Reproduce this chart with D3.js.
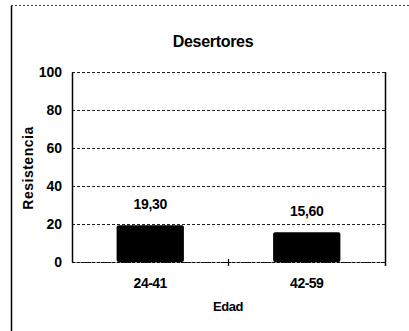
<!DOCTYPE html>
<html lang="en">
<head>
<meta charset="UTF-8">
<title>Desertores</title>
<script src="https://d3js.org/d3.v7.min.js"></script>
<style>
  body { margin: 0; background: #fff; }
  text { font-family: "Liberation Sans", Arial, sans-serif; font-weight: bold; fill: #000; }
</style>
</head>
<body>
<svg width="409" height="331"></svg>
<script>
// data
const categories = ["24-41", "42-59"];
const values = [19.30, 15.60];
const valueLabels = ["19,30", "15,60"];
const yTicks = [0, 20, 40, 60, 80, 100];

const width = 409, height = 331;
const margin = { top: 72, right: 24, bottom: 69, left: 72 };
const plotW = width - margin.left - margin.right;
const plotH = height - margin.top - margin.bottom;

const svg = d3.select("svg");

// outer frame: dotted top, solid left
svg.append("line")
  .attr("x1", 11).attr("x2", width).attr("y1", 5.5).attr("y2", 5.5)
  .attr("stroke", "#444").attr("stroke-width", 1).attr("stroke-dasharray", "2,2");
svg.append("line")
  .attr("x1", 11.5).attr("x2", 11.5).attr("y1", 6).attr("y2", height)
  .attr("stroke", "#000").attr("stroke-width", 1.5);

svg.append("text")
  .attr("x", 213).attr("y", 47)
  .attr("text-anchor", "middle")
  .style("font-size", "16px")
  .style("letter-spacing", "-0.3px")
  .text("Desertores");

const g = svg.append("g").attr("transform", `translate(${margin.left},${margin.top})`);

const x = d3.scaleBand().domain(categories).range([0, plotW]).paddingInner(0.57).paddingOuter(0.285);
const y = d3.scaleLinear().domain([0, 100]).range([plotH, 0]);

// gridlines
g.append("g")
  .selectAll("line")
  .data(yTicks)
  .join("line")
  .attr("x1", 0).attr("x2", plotW)
  .attr("y1", d => Math.round(y(d)) + 0.5).attr("y2", d => Math.round(y(d)) + 0.5)
  .attr("stroke", "#222").attr("stroke-width", 1).attr("stroke-dasharray", "3,2");

// bars
g.append("g")
  .selectAll("rect")
  .data(values)
  .join("rect")
  .attr("x", (d, i) => x(categories[i]))
  .attr("y", d => y(d))
  .attr("width", x.bandwidth())
  .attr("height", d => plotH - y(d))
  .attr("rx", 2)
  .attr("fill", "#000");

// value labels
g.append("g")
  .selectAll("text")
  .data(values)
  .join("text")
  .attr("x", (d, i) => x(categories[i]) + x.bandwidth() / 2)
  .attr("y", d => y(d) - 16)
  .attr("text-anchor", "middle")
  .style("font-size", "14px")
  .style("letter-spacing", "-0.3px")
  .text((d, i) => valueLabels[i]);

// y axis
const yAxis = g.append("g")
  .call(d3.axisLeft(y).tickValues(yTicks).tickSize(0).tickPadding(10));
yAxis.select(".domain").attr("stroke", "#000").attr("stroke-width", 1.5);
yAxis.selectAll("text").style("font-size", "14px").style("font-family", null).attr("dy", "0.35em");

// right border
g.append("line")
  .attr("x1", plotW + 0.5).attr("x2", plotW + 0.5).attr("y1", 0).attr("y2", plotH + 4)
  .attr("stroke", "#000").attr("stroke-width", 1.5);

// x axis
const xAxis = g.append("g")
  .attr("transform", `translate(0,${plotH})`)
  .call(d3.axisBottom(x).tickSize(0).tickPadding(16));
xAxis.select(".domain").attr("stroke", "#000").attr("stroke-dasharray", "3,1");
xAxis.selectAll("text").style("font-size", "14px").style("font-family", null).style("letter-spacing", "-0.5px");
// mid category divider tick
xAxis.append("line")
  .attr("x1", plotW / 2).attr("x2", plotW / 2).attr("y1", -3).attr("y2", 4)
  .attr("stroke", "#000").attr("stroke-width", 1.2);

// axis titles
svg.append("text")
  .attr("x", 228).attr("y", 311)
  .attr("text-anchor", "middle")
  .style("font-size", "13px")
  .style("letter-spacing", "-0.5px")
  .text("Edad");

svg.append("text")
  .attr("transform", "translate(33,168) rotate(-90)")
  .attr("text-anchor", "middle")
  .style("font-size", "14px")
  .style("letter-spacing", "0.5px")
  .text("Resistencia");
</script>
</body>
</html>
